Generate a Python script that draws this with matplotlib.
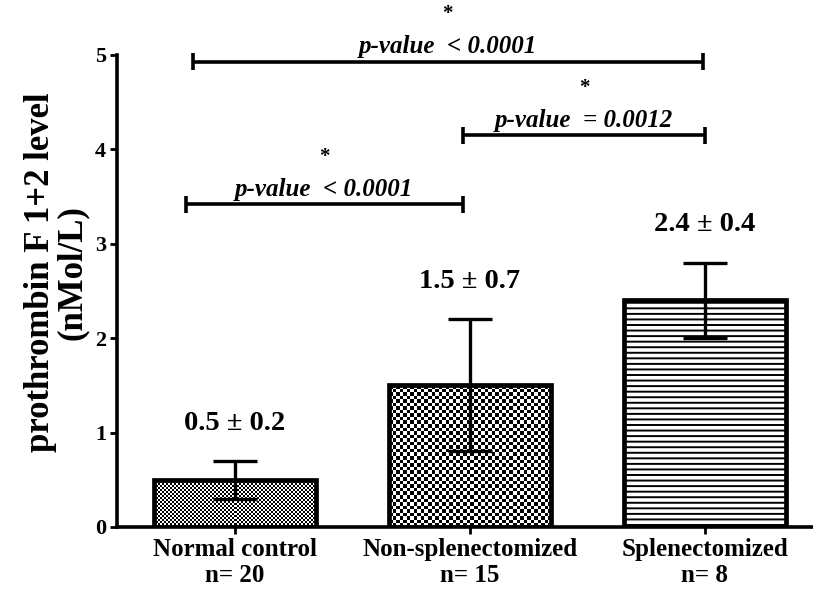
import numpy as np
import matplotlib
matplotlib.use('Agg')
import matplotlib.pyplot as plt

groups = ['Normal control', 'Non-splenectomized', 'Splenectomized']
n_counts = [20, 15, 8]
means = [0.5, 1.5, 2.4]
sds = [0.2, 0.7, 0.4]

# significance brackets: (left x, right x, height, text)
comparisons = [
    (-0.18, 1.99, 4.93, 'p-value  < 0.0001'),
    (0.97, 2.00, 4.15, 'p-value  = 0.0012'),
    (-0.21, 0.97, 3.42, 'p-value  < 0.0001'),
]

plt.rcParams['font.family'] = 'Liberation Serif'
plt.rcParams['font.weight'] = 'bold'
plt.rcParams['hatch.linewidth'] = 1.4

fig = plt.figure(figsize=(8.13, 5.89), dpi=100)
ax = fig.add_axes([0.1439, 0.1053, 0.8561, 0.8014])

x = np.arange(len(groups))
width = 0.69
bars = ax.bar(x, means, width, facecolor='none', edgecolor='black',
              linewidth=3.4, zorder=3)
bars[2].set_hatch('---')

ax.set_xlim(-0.502, 2.46)
ax.set_ylim(0, 5)


def checker_fill(bar, cell_px):
    # checkerboard texture clipped to the bar outline
    x0, y0 = bar.get_x(), bar.get_y()
    w, h = bar.get_width(), bar.get_height()
    px_per_x = ax.bbox.width / (ax.get_xlim()[1] - ax.get_xlim()[0])
    px_per_y = ax.bbox.height / (ax.get_ylim()[1] - ax.get_ylim()[0])
    ncol = int(round(w * px_per_x / cell_px))
    nrow = int(round(h * px_per_y / cell_px))
    grid = (np.add.outer(np.arange(nrow), np.arange(ncol)) % 2).astype(float)
    im = ax.imshow(grid, extent=(x0, x0 + w, y0, y0 + h), cmap='gray',
                   interpolation='nearest', aspect='auto', zorder=2)
    im.set_clip_path(bar)


checker_fill(bars[0], 2)
checker_fill(bars[1], 3.5)
ax.set_xlim(-0.502, 2.46)
ax.set_ylim(0, 5)

ax.errorbar(x, means, yerr=sds, fmt='none', ecolor='black', elinewidth=2.4,
            capsize=16, capthick=2.4, zorder=4)

for xi, m, s in zip(x, means, sds):
    ax.text(xi, m + s + 0.4, f'{m} ± {s}', ha='center', va='center',
            fontsize=20.5, fontweight='bold')

for x1, x2, y, label in comparisons:
    ax.plot([x1, x2], [y, y], color='black', lw=2.6, clip_on=False,
            solid_capstyle='butt')
    for xe in (x1, x2):
        ax.plot([xe, xe], [y - 0.09, y + 0.09], color='black', lw=2.6,
                clip_on=False, solid_capstyle='butt')
    xm = (x1 + x2) / 2
    ax.text(xm, y + 0.16, label, ha='center', va='center', fontsize=18,
            fontweight='bold', style='italic', clip_on=False)
    ax.text(xm, y + 0.50, '*', ha='center', va='center', fontsize=15,
            fontweight='bold', clip_on=False)

ax.spines['top'].set_visible(False)
ax.spines['right'].set_visible(False)
ax.spines['left'].set_linewidth(2.6)
ax.spines['bottom'].set_linewidth(2.6)

ax.set_yticks([0, 1, 2, 3, 4, 5])
ax.set_xticks(x)
ax.set_xticklabels([f'{g}\nn= {n}' for g, n in zip(groups, n_counts)],
                   fontsize=18, fontweight='bold', linespacing=1.15)
ax.tick_params(axis='y', labelsize=16, width=2, length=5, pad=3)
ax.tick_params(axis='x', width=2, length=5, pad=3)
for lab in ax.get_yticklabels():
    lab.set_fontweight('bold')

ax.set_ylabel('prothrombin F 1+2 level\n(nMol/L)', fontsize=25,
              fontweight='bold', linespacing=0.95)
ax.yaxis.set_label_coords(-0.040, 0.54)

fig.savefig('out.png', dpi=100)
